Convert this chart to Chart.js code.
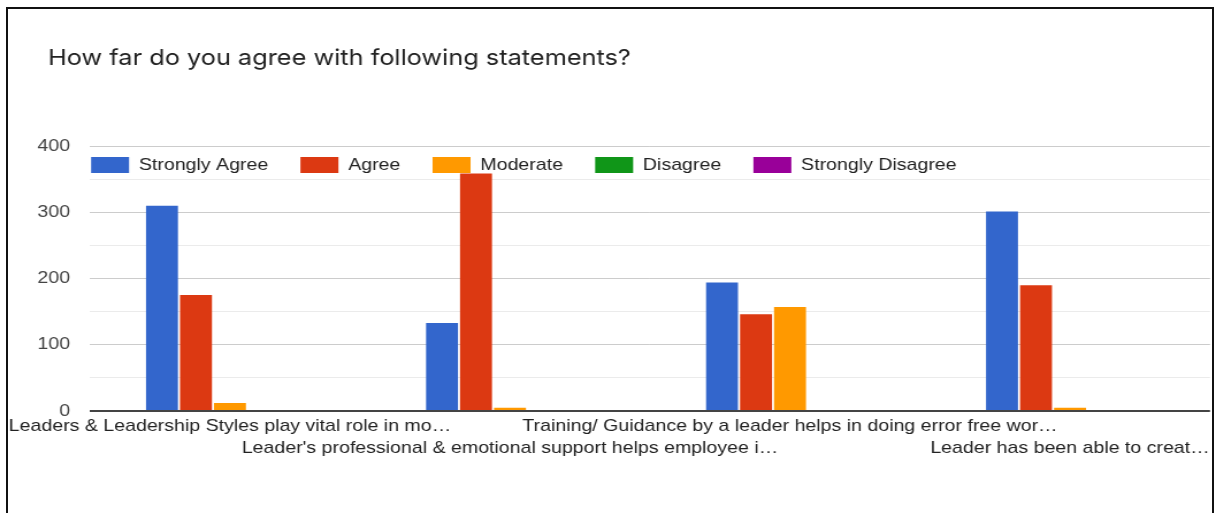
<!DOCTYPE html>
<html>
<head>
<meta charset="utf-8">
<script src="https://cdn.jsdelivr.net/npm/chart.js@4/dist/chart.umd.min.js"></script>
<style>
  html, body { margin: 0; padding: 0; background: #fff; overflow: hidden; }
  #wrap { position: relative; width: 1216px; height: 513px; }
  /* chart is drawn a bit narrower and widened with css */
  #survey { position: absolute; left: 0; top: 0; width: 1057px; height: 513px;
            transform: scaleX(1.15043); transform-origin: 0 0; }
  #frame { position: absolute; left: 6px; top: 7px; width: 1208px; height: 530px;
           box-sizing: border-box; border: 2px solid #111; border-bottom: none; pointer-events: none; }
</style>
</head>
<body>
<div id="wrap">
  <canvas id="survey" width="1057" height="513"></canvas>
  <div id="frame"></div>
</div>
<script>
'use strict';

// ******DATA******
let statements = [
  'Leaders & Leadership Styles play vital role in mo\u2026',
  'Leader\'s professional & emotional support helps employee i\u2026',
  'Training/ Guidance by a leader helps in doing error free wor\u2026',
  'Leader has been able to creat\u2026'
];

let seriesNames = ['Strongly Agree', 'Agree', 'Moderate', 'Disagree', 'Strongly Disagree'];

let stronglyAgree = [310, 133, 194, 301];
let agree = [175, 361, 146, 190];
let moderate = [12, 5, 157, 5];
let disagree = [0, 0, 0, 0];
let stronglyDisagree = [0, 0, 0, 0];

let yTicks = [0, 100, 200, 300, 400];

// ******STYLE******
let seriesColors = ['#3366cc', '#dc3912', '#ff9900', '#109618', '#990099'];
let legendShift = { x: 1, y: 10.5 };
let titleLeft = 41.7;

// long labels alternate between two rows under the axis
let xLabels = statements.map((s, i) => (i % 2 === 0 ? [s, ''] : ['', s]));

let seriesValues = [stronglyAgree, agree, moderate, disagree, stronglyDisagree];

let datasets = [];
for (let i = 0; i < seriesNames.length; i++) {
  datasets.push({
    label: seriesNames[i],
    data: seriesValues[i],
    backgroundColor: seriesColors[i],
    borderWidth: 0,
    categoryPercentage: 0.607,
    barPercentage: 0.94
  });
}

// title indented past the axis labels; legend sits inside the plot,
// on a white strip drawn over the bars
let legendInside = {
  id: 'legendInside',
  afterLayout(chart) {
    let tb = chart.titleBlock;
    tb.left = titleLeft;
    tb.width = tb.right - tb.left;

    let lg = chart.legend;
    let ca = chart.chartArea;
    let pad = lg.options.labels.padding;
    let h = lg.height;
    lg.left = ca.left + legendShift.x - pad;
    lg.top = ca.top + legendShift.y - pad;
    lg.right = ca.right;
    lg.bottom = lg.top + h;
    lg.width = lg.right - lg.left;
  },
  afterDatasetsDraw(chart) {
    let lg = chart.legend;
    let boxes = lg.legendHitBoxes;
    if (!boxes.length) return;
    let first = boxes[0];
    let last = boxes[boxes.length - 1];
    let ctx = chart.ctx;
    ctx.save();
    ctx.fillStyle = '#ffffff';
    ctx.fillRect(first.left - 3, first.top - 5, last.left + last.width - first.left + 6, first.height + 5);
    ctx.restore();
    lg.draw();
  }
};

let canvasElem = document.getElementById('survey').getContext('2d');

new Chart(canvasElem, {
  type: 'bar',
  data: {
    labels: xLabels,
    datasets: datasets
  },
  plugins: [legendInside],
  options: {
    responsive: false,
    animation: false,
    devicePixelRatio: 1,
    layout: {
      padding: { left: 28, right: 5.2, top: 0, bottom: 0 }
    },
    plugins: {
      title: {
        display: true,
        text: 'How far do you agree with following statements?',
        align: 'start',
        color: '#222222',
        font: { family: 'Inter', size: 22, weight: 'normal', lineHeight: 1.2 },
        padding: { top: 44.8, bottom: 19.8 }
      },
      legend: {
        display: true,
        position: 'top',
        align: 'start',
        labels: {
          boxWidth: 33,
          boxHeight: 16,
          padding: 28,
          color: '#222222',
          font: { family: 'Liberation Sans', size: 17 }
        }
      },
      tooltip: { enabled: false }
    },
    scales: {
      x: {
        grid: { display: false },
        border: { display: false },
        ticks: {
          autoSkip: false,
          maxRotation: 0,
          minRotation: 0,
          padding: -4,
          color: '#222222',
          font: { family: 'Liberation Sans', size: 17, lineHeight: 1.3 }
        },
        afterFit(scale) {
          scale.paddingLeft = 0;
          scale.paddingRight = 0;
          scale.height = 102;
        }
      },
      y: {
        min: 0,
        max: 400,
        border: { display: false },
        grid: {
          drawTicks: false,
          color: (ctx) => {
            let v = ctx.tick.value;
            if (v === 0) return '#444444';
            return yTicks.includes(v) ? '#cccccc' : '#ebebeb';
          },
          lineWidth: (ctx) => (ctx.tick.value === 0 ? 2 : 1)
        },
        ticks: {
          stepSize: 50,
          padding: 17.3,
          color: '#444444',
          font: { family: 'Liberation Sans', size: 17 },
          callback: (v) => (yTicks.includes(v) ? v : '')
        },
        afterFit(scale) {
          scale.width = 50.2;
        }
      }
    }
  }
});
</script>
</body>
</html>
